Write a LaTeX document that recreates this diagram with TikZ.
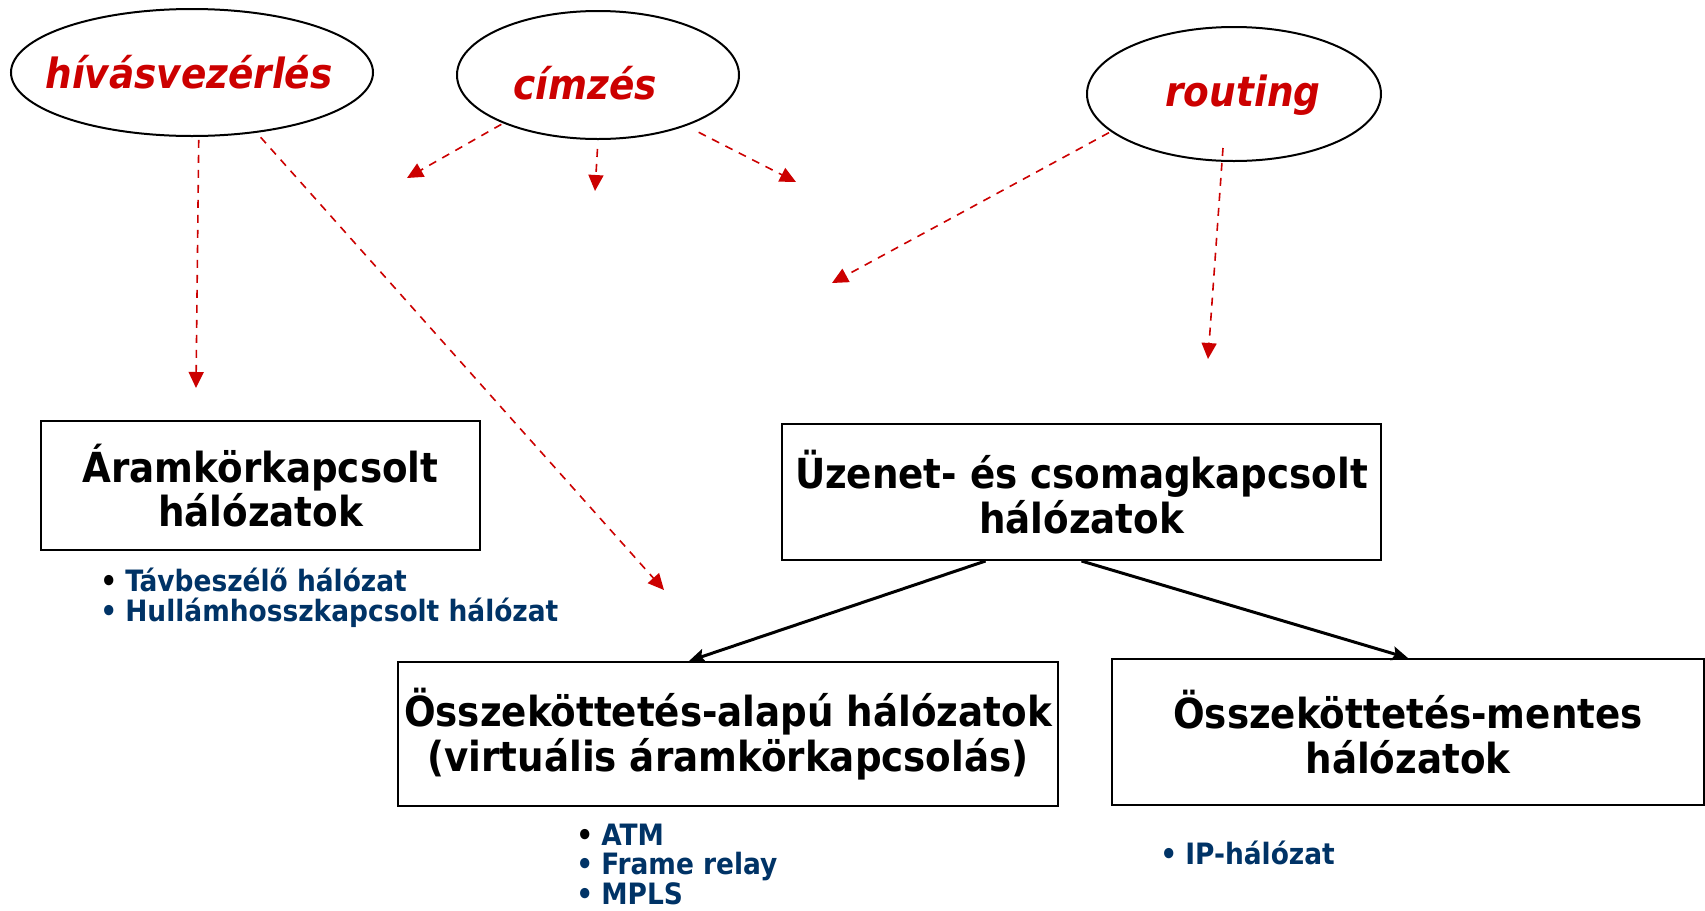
\documentclass[tikz,border=0pt]{standalone}
\usepackage{fontspec}
\setmainfont{DejaVu Sans Condensed}
\usetikzlibrary{arrows.meta,shapes.geometric,calc}
\definecolor{callred}{HTML}{CC0000}
\definecolor{listblue}{HTML}{003366}
\newcommand{\blt}[1][listblue]{\textcolor{#1}{•}\hspace{4pt}}
\begin{document}
\begin{tikzpicture}[x=0.5pt,y=-0.5pt,
  topic/.style={ellipse,draw=black,line width=1pt,inner sep=0pt},
  topiclabel/.style={text=callred,font=\fontsize{20.8}{24}\selectfont\bfseries\itshape},
  netbox/.style={rectangle,draw=black,line width=1pt,inner sep=0pt,align=center,
    font=\fontsize{20.7}{22.3}\selectfont\bfseries},
  item/.style={anchor=west,text=listblue,font=\fontsize{14.7}{16}\selectfont\bfseries,inner sep=0pt},
  role/.style={draw=callred,line width=0.8pt,dash pattern=on 4pt off 3.5pt,
    -{Triangle[length=8pt,width=7.5pt]}},
  split/.style={draw=black,line width=1.5pt,-{Stealth[length=8pt,width=7pt,inset=1.5pt]}}
]
\useasboundingbox (0,0) rectangle (1705,911);
\fill[white] (0,0) rectangle (1705,911);

% functions (ellipses)
\node[topic,minimum width=181pt,minimum height=63.5pt,
  label={[topiclabel,xshift=-1.5pt]center:hívásvezérlés}] (hiv) at (192,72.5) {};
\node[topic,minimum width=141pt,minimum height=64pt,
  label={[topiclabel,xshift=-6.5pt,yshift=-4pt]center:címzés}] (cim) at (598,75) {};
\node[topic,minimum width=147pt,minimum height=67pt,
  label={[topiclabel,xshift=4.5pt,yshift=-0.6pt]center:routing}] (rout) at (1234,94) {};

% network types (boxes)
\node[netbox,minimum width=219.5pt,minimum height=64.5pt] (aram) at (260.5,485.5)
  {Áramkörkapcsolt\\hálózatok};
\node[netbox,minimum width=299.5pt,minimum height=68pt] (uzen) at (1081.5,492)
  {Üzenet- és csomagkapcsolt\\hálózatok};
\node[netbox,minimum width=330pt,minimum height=72pt] (alap) at (728,734)
  {Összeköttetés-alapú hálózatok\\(virtuális áramkörkapcsolás)};
\node[netbox,minimum width=296pt,minimum height=73pt] (ment) at (1408,732)
  {Összeköttetés-mentes\\hálózatok};

% examples
\node[item] (l1) at (100,580) {\blt[black]Távbeszélő hálózat};
\node[item] (l2) at (100,613) {\blt Hullámhosszkapcsolt hálózat};
\node[item] (l3) at (576,835) {\blt[black]ATM};
\node[item] (l4) at (576,866) {\blt Frame relay};
\node[item] (l5) at (576,894) {\blt MPLS};
\node[item] (l6) at (1160,853) {\blt IP-hálózat};

% free ends of the function arrows
\coordinate (h1) at (196,388);
\coordinate (h2) at (664,590);
\coordinate (c1) at (407,178);
\coordinate (c2) at (595,191);
\coordinate (c3) at (796,182);
\coordinate (r1) at (832,283);
\coordinate (r2) at (1208,359);

\draw[role,shorten <=1.5pt] (hiv.-84) -- (h1);
\draw[role,shorten <=3pt] (hiv.-43) -- (h2);
\draw[role,shorten <=1pt] (cim.-153) -- (c1);
\draw[role,shorten <=4.5pt] (cim.south) -- (c2);
\draw[role,shorten <=7pt] (cim.-30) -- (c3);
\draw[role,shorten <=1pt] (rout.-163) -- (r1);
\draw[role] ($(rout.center)+(-11,54)$) -- (r2);

% packet switching splits in two
\draw[split] ($(uzen.south)+(-96,0)$) -- ($(alap.north)+(-39,0)$);
\draw[split] (uzen.south) -- (ment.north);
\end{tikzpicture}
\end{document}
